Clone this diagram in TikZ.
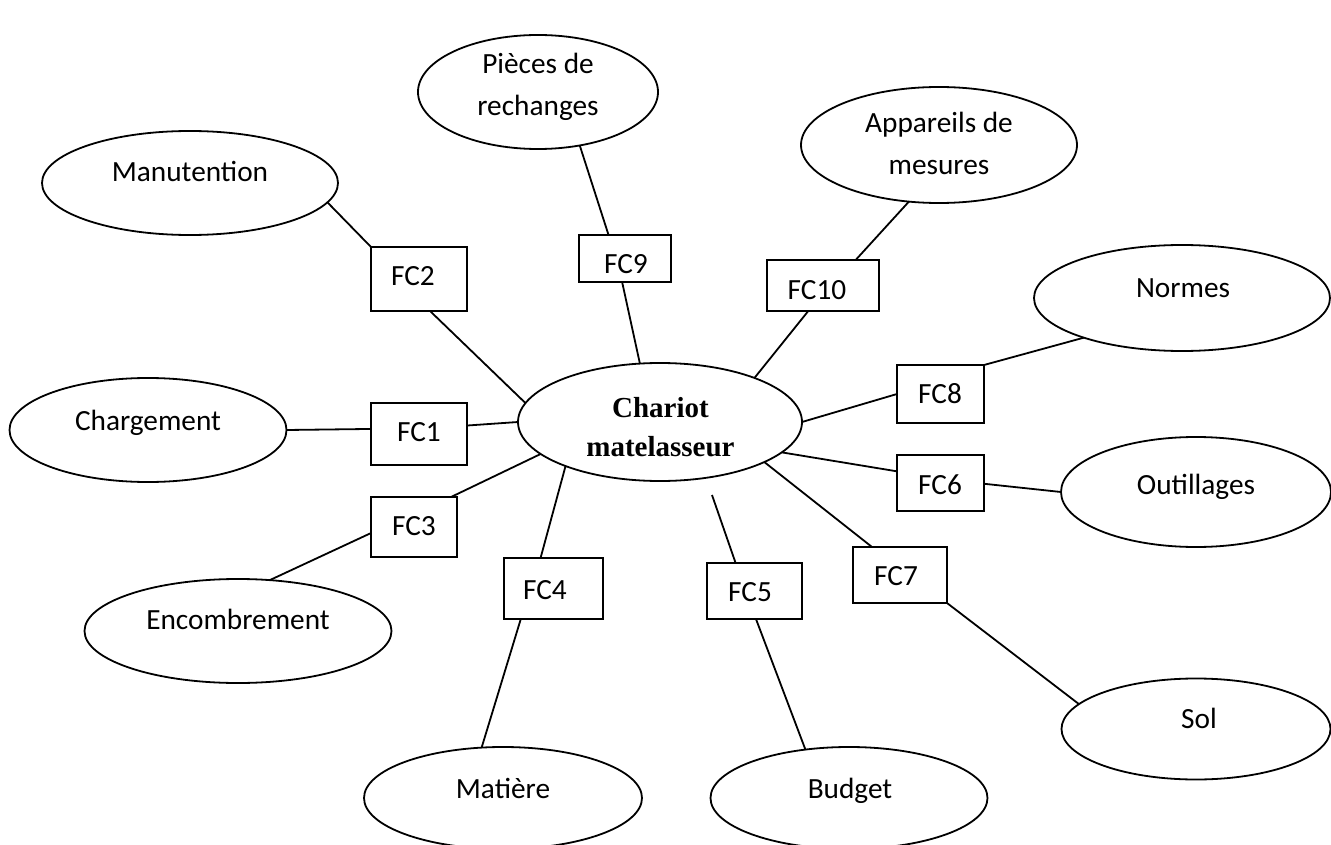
\documentclass[tikz,border=0pt]{standalone}
\usepackage{fontspec}
\setmainfont{Carlito}
\newfontfamily\serifbold{Liberation Serif}
\usetikzlibrary{shapes.geometric}

\begin{document}
\begin{tikzpicture}[x=1pt,y=-1pt,
  every node/.style={inner sep=0pt, outer sep=0pt},
  oval/.style={ellipse, draw, line width=1.8pt, fill=white},
  fcbox/.style={rectangle, draw, line width=1.8pt, fill=white},
  link/.style={line width=1.8pt},
  lbl/.style={font=\fontsize{29.3}{42}\selectfont, anchor=base},
  lbltwo/.style={font=\fontsize{29.3}{42}\selectfont, align=center, anchor=center},
]
\useasboundingbox (0,0) rectangle (1331,845);

% ---- surrounding environment elements (ellipses)
\node[oval, minimum width=296pt, minimum height=104pt] (man) at (190,183) {};
\node[oval, minimum width=240pt, minimum height=114pt] (pie) at (538,92) {};
\node[oval, minimum width=276pt, minimum height=116pt] (app) at (939,145) {};
\node[oval, minimum width=296pt, minimum height=106pt] (nor) at (1182,298) {};
\node[oval, minimum width=277pt, minimum height=104pt] (cha) at (148,430) {};
\node[oval, minimum width=284pt, minimum height=118pt] (chr) at (660,422) {};
\node[oval, minimum width=270pt, minimum height=110pt] (out) at (1196,492) {};
\node[oval, minimum width=307pt, minimum height=104pt] (enc) at (238,631) {};
\node[oval, minimum width=269pt, minimum height=101pt] (sol) at (1196,729) {};
\node[oval, minimum width=278pt, minimum height=102pt] (mat) at (503,798) {};
\node[oval, minimum width=277pt, minimum height=102pt] (bud) at (849,798) {};

% ---- constraint functions (boxes)
\node[fcbox, minimum width=96pt, minimum height=64pt] (fc2) at (419,279) {};
\node[fcbox, minimum width=92pt, minimum height=47pt] (fc9) at (625,258.5) {};
\node[fcbox, minimum width=112pt, minimum height=51pt] (fc10) at (823,285.5) {};
\node[fcbox, minimum width=87pt, minimum height=58pt] (fc8) at (940.5,394) {};
\node[fcbox, minimum width=96pt, minimum height=62pt] (fc1) at (419,434) {};
\node[fcbox, minimum width=87pt, minimum height=56pt] (fc6) at (940.5,483) {};
\node[fcbox, minimum width=86pt, minimum height=60pt] (fc3) at (414,527) {};
\node[fcbox, minimum width=99pt, minimum height=61pt] (fc4) at (553.5,588.5) {};
\node[fcbox, minimum width=95pt, minimum height=56pt] (fc5) at (754.5,591) {};
\node[fcbox, minimum width=94pt, minimum height=56pt] (fc7) at (900,575) {};

% ---- labels
\node[lbl] (man-t) at (190,182) {Manutention};
\node[lbltwo] (pie-t) at (538,86) {\strut Pièces de\\\strut rechanges};
\node[lbltwo] (app-t) at (939,145.6) {\strut Appareils de\\\strut mesures};
\node[lbl] (nor-t) at (1183,298) {Normes};
\node[lbl] (cha-t) at (148,430) {Chargement};
\node[font=\serifbold\bfseries\fontsize{29}{39}\selectfont, align=center, anchor=center]
  (chr-t) at (660.5,428.7) {\strut Chariot\\\strut matelasseur};
\node[lbl] (out-t) at (1196,494) {Outillages};
\node[lbl] (enc-t) at (238,629) {Encombrement};
\node[lbl] (sol-t) at (1199,728) {Sol};
\node[lbl] (mat-t) at (503,798) {Matière};
\node[lbl] (bud-t) at (850,798) {Budget};

\node[lbl] (fc2-t) at (413,286) {FC2};
\node[lbl] (fc9-t) at (626,273) {FC9};
\node[lbl] (fc10-t) at (817,299) {FC10};
\node[lbl] (fc8-t) at (940,403) {FC8};
\node[lbl] (fc1-t) at (419,441) {FC1};
\node[lbl] (fc6-t) at (940,494) {FC6};
\node[lbl] (fc3-t) at (414,535) {FC3};
\node[lbl] (fc4-t) at (545,599) {FC4};
\node[lbl] (fc5-t) at (750,601) {FC5};
\node[lbl] (fc7-t) at (896,585) {FC7};

% ---- connectors
\draw[link] (man.-8.4) -- (fc2.north west);
\draw[link] (fc2.-71) -- (chr.172.3);
\draw[link] (pie.-52) -- (fc9.125.9);
\draw[link] (fc9.-97.3) -- (chr.109);
\draw[link] (app.-118.5) -- (fc10.38.6);
\draw[link] (fc10.-120.5) -- (chr.25.8);
\draw[link] (fc8.north east) -- (nor.202);
\draw[link] (fc8.west) -- (chr.east);
\draw[link] (cha.east) -- (fc1.174);
\draw[link] (fc1.10.6) -- (chr.west);
\draw[link] (chr.195.7) -- (fc3.39.8);
\draw[link] (fc3.188) -- (enc.58.4);
\draw[link] (chr.205.3) -- (fc4.113.9);
\draw[link] (fc4.223) -- (mat.113.3);
\coordinate (fc5end) at (712,495);
\draw[link] (fc5end) -- (fc5.124.9);
\draw[link] (fc5.-87) -- (bud.132.7);
\draw[link] (chr.-14.8) -- (fc6.165.8);
\draw[link] (fc6.-1) -- (out.west);
\draw[link] (chr.-21.4) -- (fc7.135);
\draw[link] (fc7.south east) -- (sol.168.7);
\end{tikzpicture}
\end{document}
